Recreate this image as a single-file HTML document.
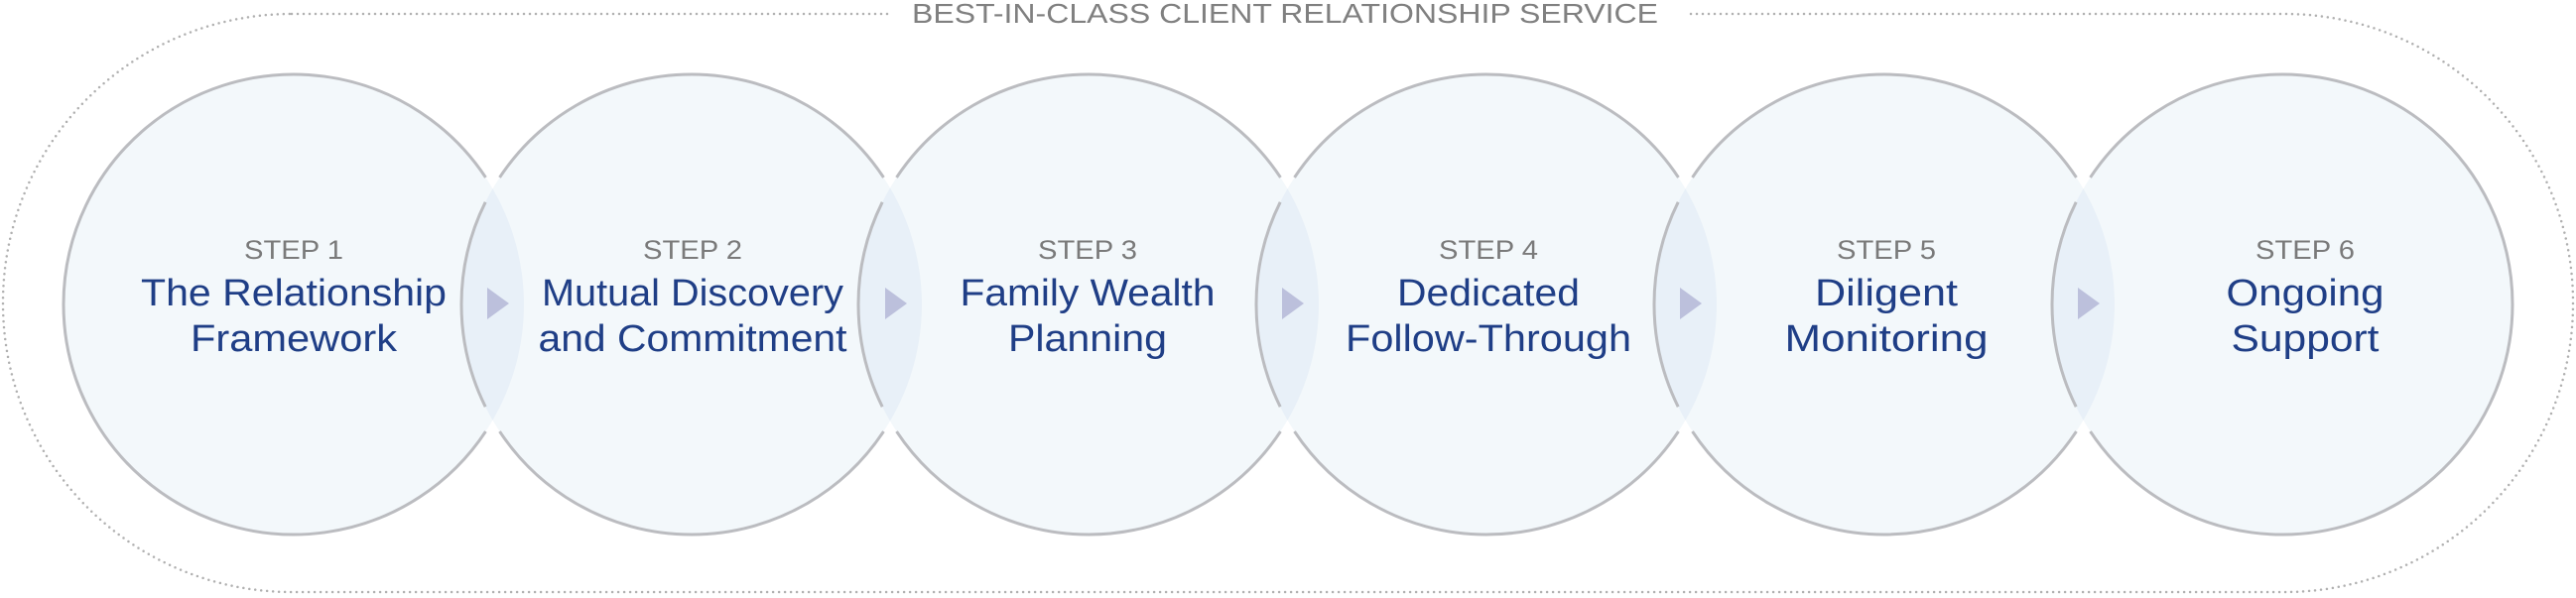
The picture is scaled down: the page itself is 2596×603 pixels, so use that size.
<!DOCTYPE html>
<html><head><meta charset="utf-8"><style>
html,body{margin:0;padding:0;background:#fff;width:2596px;height:603px;overflow:hidden}
svg{display:block}
</style></head><body>
<svg id="s" width="2596" height="603" viewBox="0 0 2596 603" xmlns="http://www.w3.org/2000/svg">
<rect x="3" y="14" width="2590" height="583" rx="291" ry="291" fill="none" stroke="#b0b0b0" stroke-width="2.5" stroke-dasharray="0 6" stroke-linecap="round"/>
<rect x="896" y="0" width="806" height="30" fill="#fff"/>
<text x="1295" y="23" text-anchor="middle" font-family="Liberation Sans, sans-serif" font-size="28" fill="#808080" textLength="752" lengthAdjust="spacingAndGlyphs">BEST-IN-CLASS CLIENT RELATIONSHIP SERVICE</text>
<g id="g"></g>
</svg>
<script>
var cx=[296,697,1097,1498,1899,2300],cy=307,r=232;
var g=document.getElementById('g'),h='';
function pt(c,a){a=a*Math.PI/180;return [(c+r*Math.cos(a)).toFixed(2),(cy+r*Math.sin(a)).toFixed(2)];}
function arc(c,a1,a2){var p=pt(c,a1),q=pt(c,a2),large=(a2-a1)>180?1:0;return 'M'+p[0]+' '+p[1]+' A'+r+' '+r+' 0 '+large+' 1 '+q[0]+' '+q[1]+' ';}
for(var i=0;i<6;i++)h+='<circle cx="'+cx[i]+'" cy="'+cy+'" r="'+r+'" fill="#f3f8fb"/>';
for(var i=0;i<5;i++){var a=cx[i],b=cx[i+1],m=(a+b)/2,dy=Math.sqrt(r*r-Math.pow((b-a)/2,2));
h+='<path d="M'+m+' '+(cy-dy)+' A'+r+' '+r+' 0 0 1 '+m+' '+(cy+dy)+' A'+r+' '+r+' 0 0 1 '+m+' '+(cy-dy)+'Z" fill="#e8f0f8"/>';}
var d='';
for(var i=0;i<6;i++){var c=cx[i];var R=33.5;
 if(i==0){ d+=arc(c,R,360-R); }
 else if(i==5){ d+=arc(c,-180+33.5,180-33.5); d+=arc(c,180-26.4,180+26.4);}
 else { d+=arc(c,R,180-33.5); d+=arc(c,180-26.4,180+26.4); d+=arc(c,180+33.5,360-R);}
}
h+='<path d="'+d+'" fill="none" stroke="#bbbcc0" stroke-width="3"/>';
for(var i=0;i<5;i++){var x=cx[i]+195;h+='<polygon points="'+x+',290 '+(x+22)+',306 '+x+',322" fill="#bcc0dc"/>';}
var T=[["STEP 1","The Relationship",308,"Framework",208,296],["STEP 2","Mutual Discovery",304,"and Commitment",311,698],["STEP 3","Family Wealth",257,"Planning",160,1096],["STEP 4","Dedicated",184,"Follow-Through",288,1500],["STEP 5","Diligent",144,"Monitoring",205,1901],["STEP 6","Ongoing",159,"Support",149,2323]];
var F='font-family="Liberation Sans, sans-serif" text-anchor="middle"';
for(var i=0;i<6;i++){var t=T[i],x=t[5];
h+='<text x="'+x+'" y="261" '+F+' font-size="27" fill="#7a7a7a" textLength="100" lengthAdjust="spacingAndGlyphs">'+t[0]+'</text>';
h+='<text x="'+x+'" y="308" '+F+' font-size="38" fill="#1f3e86" textLength="'+t[2]+'" lengthAdjust="spacingAndGlyphs">'+t[1]+'</text>';
h+='<text x="'+x+'" y="354" '+F+' font-size="38" fill="#1f3e86" textLength="'+t[4]+'" lengthAdjust="spacingAndGlyphs">'+t[3]+'</text>';}
g.innerHTML=h;
</script>
</body></html>
